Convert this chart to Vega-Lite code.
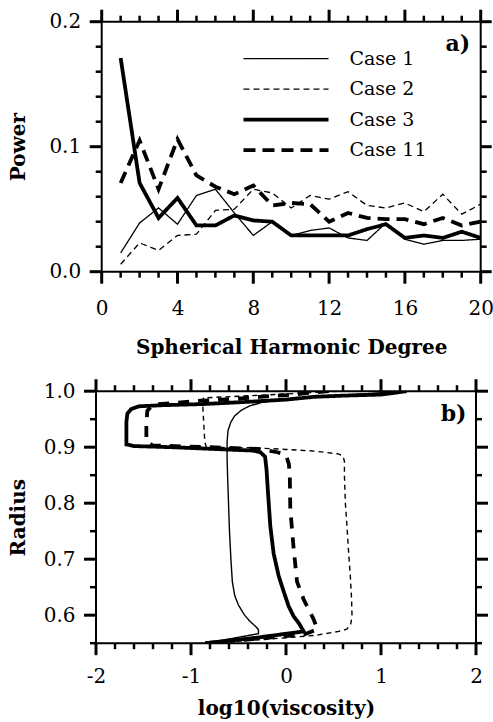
{
  "$schema": "https://vega.github.io/schema/vega-lite/v6.json",
  "padding": {"left": 0, "top": 6.7, "right": 0, "bottom": 0},
  "background": "white",
  "spacing": 17.5,
  "config": {
    "font": "DejaVu Serif",
    "view": {"stroke": "black", "strokeWidth": 2},
    "axis": {
      "domain": false, "ticks": false, "tickSize": 0,
      "labelColor": "black", "labelFont": "DejaVu Serif", "labelFontSize": 20,
      "titleFont": "DejaVu Serif", "titleFontSize": 20, "titleFontWeight": "bold", "titleColor": "black",
      "grid": false, "labelFlush": false, "labelOverlap": false
    }
  },
  "resolve": {"scale": {"strokeDash": "independent"}},
  "datasets": {
    "xMajA": [{"t": 0}, {"t": 4}, {"t": 8}, {"t": 12}, {"t": 16}, {"t": 20}],
    "xMinA": [{"t": 1}, {"t": 2}, {"t": 3}, {"t": 5}, {"t": 6}, {"t": 7}, {"t": 9}, {"t": 10}, {"t": 11}, {"t": 13}, {"t": 14}, {"t": 15}, {"t": 17}, {"t": 18}, {"t": 19}],
    "yMajA": [{"t": 0}, {"t": 0.1}, {"t": 0.2}],
    "yMinA": [{"t": 0.02}, {"t": 0.04}, {"t": 0.06}, {"t": 0.08}, {"t": 0.12}, {"t": 0.14}, {"t": 0.16}, {"t": 0.18}],
    "xMajB": [{"t": -2}, {"t": -1}, {"t": 0}, {"t": 1}, {"t": 2}],
    "xMinB": [{"t": -1.8}, {"t": -1.6}, {"t": -1.4}, {"t": -1.2}, {"t": -0.8}, {"t": -0.6}, {"t": -0.4}, {"t": -0.2}, {"t": 0.2}, {"t": 0.4}, {"t": 0.6}, {"t": 0.8}, {"t": 1.2}, {"t": 1.4}, {"t": 1.6}, {"t": 1.8}],
    "yMajB": [{"t": 0.6}, {"t": 0.7}, {"t": 0.8}, {"t": 0.9}, {"t": 1.0}],
    "yMinB": [{"t": 0.55}, {"t": 0.65}, {"t": 0.75}, {"t": 0.85}, {"t": 0.95}],
    "power": [
      {"case": "Case 1", "deg": 1, "power": 0.015}, {"case": "Case 1", "deg": 2, "power": 0.039}, {"case": "Case 1", "deg": 3, "power": 0.051}, {"case": "Case 1", "deg": 4, "power": 0.038}, {"case": "Case 1", "deg": 5, "power": 0.061}, {"case": "Case 1", "deg": 6, "power": 0.066}, {"case": "Case 1", "deg": 7, "power": 0.047}, {"case": "Case 1", "deg": 8, "power": 0.029}, {"case": "Case 1", "deg": 9, "power": 0.040}, {"case": "Case 1", "deg": 10, "power": 0.029}, {"case": "Case 1", "deg": 11, "power": 0.033}, {"case": "Case 1", "deg": 12, "power": 0.035}, {"case": "Case 1", "deg": 13, "power": 0.027}, {"case": "Case 1", "deg": 14, "power": 0.025}, {"case": "Case 1", "deg": 15, "power": 0.039}, {"case": "Case 1", "deg": 16, "power": 0.026}, {"case": "Case 1", "deg": 17, "power": 0.022}, {"case": "Case 1", "deg": 18, "power": 0.025}, {"case": "Case 1", "deg": 19, "power": 0.025}, {"case": "Case 1", "deg": 20, "power": 0.026},
      {"case": "Case 2", "deg": 1, "power": 0.006}, {"case": "Case 2", "deg": 2, "power": 0.023}, {"case": "Case 2", "deg": 3, "power": 0.017}, {"case": "Case 2", "deg": 4, "power": 0.029}, {"case": "Case 2", "deg": 5, "power": 0.030}, {"case": "Case 2", "deg": 6, "power": 0.049}, {"case": "Case 2", "deg": 7, "power": 0.050}, {"case": "Case 2", "deg": 8, "power": 0.066}, {"case": "Case 2", "deg": 9, "power": 0.063}, {"case": "Case 2", "deg": 10, "power": 0.051}, {"case": "Case 2", "deg": 11, "power": 0.061}, {"case": "Case 2", "deg": 12, "power": 0.058}, {"case": "Case 2", "deg": 13, "power": 0.064}, {"case": "Case 2", "deg": 14, "power": 0.053}, {"case": "Case 2", "deg": 15, "power": 0.051}, {"case": "Case 2", "deg": 16, "power": 0.055}, {"case": "Case 2", "deg": 17, "power": 0.048}, {"case": "Case 2", "deg": 18, "power": 0.062}, {"case": "Case 2", "deg": 19, "power": 0.046}, {"case": "Case 2", "deg": 20, "power": 0.054},
      {"case": "Case 3", "deg": 1, "power": 0.171}, {"case": "Case 3", "deg": 2, "power": 0.071}, {"case": "Case 3", "deg": 3, "power": 0.043}, {"case": "Case 3", "deg": 4, "power": 0.059}, {"case": "Case 3", "deg": 5, "power": 0.037}, {"case": "Case 3", "deg": 6, "power": 0.037}, {"case": "Case 3", "deg": 7, "power": 0.045}, {"case": "Case 3", "deg": 8, "power": 0.041}, {"case": "Case 3", "deg": 9, "power": 0.040}, {"case": "Case 3", "deg": 10, "power": 0.029}, {"case": "Case 3", "deg": 11, "power": 0.029}, {"case": "Case 3", "deg": 12, "power": 0.029}, {"case": "Case 3", "deg": 13, "power": 0.029}, {"case": "Case 3", "deg": 14, "power": 0.034}, {"case": "Case 3", "deg": 15, "power": 0.038}, {"case": "Case 3", "deg": 16, "power": 0.027}, {"case": "Case 3", "deg": 17, "power": 0.029}, {"case": "Case 3", "deg": 18, "power": 0.027}, {"case": "Case 3", "deg": 19, "power": 0.032}, {"case": "Case 3", "deg": 20, "power": 0.027},
      {"case": "Case 11", "deg": 1, "power": 0.071}, {"case": "Case 11", "deg": 2, "power": 0.105}, {"case": "Case 11", "deg": 3, "power": 0.066}, {"case": "Case 11", "deg": 4, "power": 0.106}, {"case": "Case 11", "deg": 5, "power": 0.077}, {"case": "Case 11", "deg": 6, "power": 0.068}, {"case": "Case 11", "deg": 7, "power": 0.062}, {"case": "Case 11", "deg": 8, "power": 0.069}, {"case": "Case 11", "deg": 9, "power": 0.053}, {"case": "Case 11", "deg": 10, "power": 0.055}, {"case": "Case 11", "deg": 11, "power": 0.054}, {"case": "Case 11", "deg": 12, "power": 0.040}, {"case": "Case 11", "deg": 13, "power": 0.047}, {"case": "Case 11", "deg": 14, "power": 0.043}, {"case": "Case 11", "deg": 15, "power": 0.042}, {"case": "Case 11", "deg": 16, "power": 0.042}, {"case": "Case 11", "deg": 17, "power": 0.038}, {"case": "Case 11", "deg": 18, "power": 0.043}, {"case": "Case 11", "deg": 19, "power": 0.037}, {"case": "Case 11", "deg": 20, "power": 0.040}
    ],
    "profile": [
      {"case": "Case 1", "i": 1, "logv": 1.27, "r": 1.0}, {"case": "Case 1", "i": 2, "logv": 0.8, "r": 0.995}, {"case": "Case 1", "i": 3, "logv": 0.3, "r": 0.99}, {"case": "Case 1", "i": 4, "logv": 0.0, "r": 0.986}, {"case": "Case 1", "i": 5, "logv": -0.25, "r": 0.98}, {"case": "Case 1", "i": 6, "logv": -0.38, "r": 0.974}, {"case": "Case 1", "i": 7, "logv": -0.47, "r": 0.966}, {"case": "Case 1", "i": 8, "logv": -0.54, "r": 0.956}, {"case": "Case 1", "i": 9, "logv": -0.58, "r": 0.945}, {"case": "Case 1", "i": 10, "logv": -0.61, "r": 0.93}, {"case": "Case 1", "i": 11, "logv": -0.62, "r": 0.91}, {"case": "Case 1", "i": 12, "logv": -0.62, "r": 0.88}, {"case": "Case 1", "i": 13, "logv": -0.615, "r": 0.85}, {"case": "Case 1", "i": 14, "logv": -0.605, "r": 0.8}, {"case": "Case 1", "i": 15, "logv": -0.595, "r": 0.75}, {"case": "Case 1", "i": 16, "logv": -0.58, "r": 0.7}, {"case": "Case 1", "i": 17, "logv": -0.565, "r": 0.66}, {"case": "Case 1", "i": 18, "logv": -0.54, "r": 0.635}, {"case": "Case 1", "i": 19, "logv": -0.5, "r": 0.618}, {"case": "Case 1", "i": 20, "logv": -0.44, "r": 0.601}, {"case": "Case 1", "i": 21, "logv": -0.38, "r": 0.589}, {"case": "Case 1", "i": 22, "logv": -0.32, "r": 0.58}, {"case": "Case 1", "i": 23, "logv": -0.29, "r": 0.574}, {"case": "Case 1", "i": 24, "logv": -0.29, "r": 0.567}, {"case": "Case 1", "i": 25, "logv": -0.55, "r": 0.559}, {"case": "Case 1", "i": 26, "logv": -0.85, "r": 0.55},
      {"case": "Case 3", "i": 1, "logv": 1.27, "r": 1.0}, {"case": "Case 3", "i": 2, "logv": 1.0, "r": 0.994}, {"case": "Case 3", "i": 3, "logv": 0.6, "r": 0.992}, {"case": "Case 3", "i": 4, "logv": 0.3, "r": 0.99}, {"case": "Case 3", "i": 5, "logv": 0.0, "r": 0.985}, {"case": "Case 3", "i": 6, "logv": -0.4, "r": 0.981}, {"case": "Case 3", "i": 7, "logv": -0.88, "r": 0.977}, {"case": "Case 3", "i": 8, "logv": -1.3, "r": 0.975}, {"case": "Case 3", "i": 9, "logv": -1.55, "r": 0.973}, {"case": "Case 3", "i": 10, "logv": -1.63, "r": 0.968}, {"case": "Case 3", "i": 11, "logv": -1.67, "r": 0.96}, {"case": "Case 3", "i": 12, "logv": -1.68, "r": 0.945}, {"case": "Case 3", "i": 13, "logv": -1.68, "r": 0.905}, {"case": "Case 3", "i": 14, "logv": -1.6, "r": 0.902}, {"case": "Case 3", "i": 15, "logv": -1.2, "r": 0.9}, {"case": "Case 3", "i": 16, "logv": -0.64, "r": 0.896}, {"case": "Case 3", "i": 17, "logv": -0.35, "r": 0.894}, {"case": "Case 3", "i": 18, "logv": -0.27, "r": 0.891}, {"case": "Case 3", "i": 19, "logv": -0.22, "r": 0.883}, {"case": "Case 3", "i": 20, "logv": -0.205, "r": 0.86}, {"case": "Case 3", "i": 21, "logv": -0.19, "r": 0.82}, {"case": "Case 3", "i": 22, "logv": -0.165, "r": 0.759}, {"case": "Case 3", "i": 23, "logv": -0.13, "r": 0.71}, {"case": "Case 3", "i": 24, "logv": -0.077, "r": 0.67}, {"case": "Case 3", "i": 25, "logv": -0.02, "r": 0.64}, {"case": "Case 3", "i": 26, "logv": 0.028, "r": 0.616}, {"case": "Case 3", "i": 27, "logv": 0.08, "r": 0.598}, {"case": "Case 3", "i": 28, "logv": 0.134, "r": 0.586}, {"case": "Case 3", "i": 29, "logv": 0.186, "r": 0.571}, {"case": "Case 3", "i": 30, "logv": -0.3, "r": 0.56}, {"case": "Case 3", "i": 31, "logv": -0.85, "r": 0.55},
      {"case": "Case 2", "i": 1, "logv": 0.55, "r": 1.0}, {"case": "Case 2", "i": 2, "logv": 0.0, "r": 0.995}, {"case": "Case 2", "i": 3, "logv": -0.5, "r": 0.991}, {"case": "Case 2", "i": 4, "logv": -0.87, "r": 0.988}, {"case": "Case 2", "i": 5, "logv": -0.875, "r": 0.97}, {"case": "Case 2", "i": 6, "logv": -0.865, "r": 0.94}, {"case": "Case 2", "i": 7, "logv": -0.855, "r": 0.91}, {"case": "Case 2", "i": 8, "logv": -0.84, "r": 0.9}, {"case": "Case 2", "i": 9, "logv": -0.36, "r": 0.899}, {"case": "Case 2", "i": 10, "logv": 0.0, "r": 0.896}, {"case": "Case 2", "i": 11, "logv": 0.3, "r": 0.893}, {"case": "Case 2", "i": 12, "logv": 0.55, "r": 0.888}, {"case": "Case 2", "i": 13, "logv": 0.6, "r": 0.884}, {"case": "Case 2", "i": 14, "logv": 0.615, "r": 0.875}, {"case": "Case 2", "i": 15, "logv": 0.615, "r": 0.85}, {"case": "Case 2", "i": 16, "logv": 0.625, "r": 0.8}, {"case": "Case 2", "i": 17, "logv": 0.642, "r": 0.759}, {"case": "Case 2", "i": 18, "logv": 0.66, "r": 0.71}, {"case": "Case 2", "i": 19, "logv": 0.677, "r": 0.67}, {"case": "Case 2", "i": 20, "logv": 0.69, "r": 0.63}, {"case": "Case 2", "i": 21, "logv": 0.695, "r": 0.598}, {"case": "Case 2", "i": 22, "logv": 0.68, "r": 0.583}, {"case": "Case 2", "i": 23, "logv": 0.64, "r": 0.575}, {"case": "Case 2", "i": 24, "logv": 0.555, "r": 0.571}, {"case": "Case 2", "i": 25, "logv": 0.31, "r": 0.564}, {"case": "Case 2", "i": 26, "logv": -0.2, "r": 0.557}, {"case": "Case 2", "i": 27, "logv": -0.85, "r": 0.55},
      {"case": "Case 11", "i": 1, "logv": 0.45, "r": 1.0}, {"case": "Case 11", "i": 2, "logv": 0.25, "r": 0.997}, {"case": "Case 11", "i": 3, "logv": 0.0, "r": 0.993}, {"case": "Case 11", "i": 4, "logv": -0.27, "r": 0.99}, {"case": "Case 11", "i": 5, "logv": -0.55, "r": 0.986}, {"case": "Case 11", "i": 6, "logv": -0.9, "r": 0.983}, {"case": "Case 11", "i": 7, "logv": -1.4, "r": 0.976}, {"case": "Case 11", "i": 8, "logv": -1.46, "r": 0.965}, {"case": "Case 11", "i": 9, "logv": -1.47, "r": 0.94}, {"case": "Case 11", "i": 10, "logv": -1.47, "r": 0.91}, {"case": "Case 11", "i": 11, "logv": -1.4, "r": 0.903}, {"case": "Case 11", "i": 12, "logv": -0.8, "r": 0.9}, {"case": "Case 11", "i": 13, "logv": -0.3, "r": 0.897}, {"case": "Case 11", "i": 14, "logv": -0.09, "r": 0.891}, {"case": "Case 11", "i": 15, "logv": 0.0, "r": 0.886}, {"case": "Case 11", "i": 16, "logv": 0.03, "r": 0.87}, {"case": "Case 11", "i": 17, "logv": 0.04, "r": 0.85}, {"case": "Case 11", "i": 18, "logv": 0.045, "r": 0.79}, {"case": "Case 11", "i": 19, "logv": 0.08, "r": 0.72}, {"case": "Case 11", "i": 20, "logv": 0.116, "r": 0.66}, {"case": "Case 11", "i": 21, "logv": 0.186, "r": 0.628}, {"case": "Case 11", "i": 22, "logv": 0.29, "r": 0.593}, {"case": "Case 11", "i": 23, "logv": 0.33, "r": 0.575}, {"case": "Case 11", "i": 24, "logv": 0.2, "r": 0.566}, {"case": "Case 11", "i": 25, "logv": -0.3, "r": 0.558}, {"case": "Case 11", "i": 26, "logv": -0.85, "r": 0.55}
    ]
  },
  "vconcat": [
    {
      "spacing": 0.7,
      "hconcat": [
        {"width": 1, "height": 1, "view": {"stroke": null}, "data": {"values": [{"s": 0}]}, "mark": {"type": "point", "opacity": 0}},
        {
          "width": 379,
          "height": 250,
          "layer": [
            {
              "data": {"name": "power"},
              "mark": {"type": "line", "color": "black", "clip": true},
              "encoding": {
                "x": {"field": "deg", "type": "quantitative", "title": "Spherical Harmonic Degree",
                  "scale": {"domain": [0, 20], "nice": false},
                  "axis": {"values": [0, 4, 8, 12, 16, 20], "labelPadding": 27, "titlePadding": 19}},
                "y": {"field": "power", "type": "quantitative", "title": "Power",
                  "scale": {"domain": [0, 0.2], "nice": false},
                  "axis": {"values": [0, 0.1, 0.2], "format": ".1f", "labelPadding": 21, "titlePadding": 20}},
                "strokeDash": {"field": "case", "type": "nominal",
                  "scale": {"domain": ["Case 1", "Case 2", "Case 3", "Case 11"], "range": [[1, 0], [6, 4], [1, 0], [12, 7]]},
                  "legend": {"orient": "none", "legendX": 273.5, "legendY": 27.5, "title": null,
                    "symbolType": "M-8,0H8", "symbolSize": 113, "symbolStrokeColor": "black",
                    "labelFont": "DejaVu Serif", "labelFontSize": 19, "labelColor": "black",
                    "labelOffset": 54, "rowPadding": 10.5, "padding": 0,
                    "encode": {"symbols": {"update": {"strokeWidth": {"signal": "datum.value === 'Case 3' || datum.value === 'Case 11' ? 3.8 : 1.3"}}}}}},
                "strokeWidth": {"condition": {"test": "datum['case'] === 'Case 3' || datum['case'] === 'Case 11'", "value": 3.8}, "value": 1.3}
              }
            },
            {"data": {"name": "xMajA"}, "mark": {"type": "rule", "color": "black", "strokeWidth": 3},
             "encoding": {"x": {"field": "t", "type": "quantitative", "title": "Spherical Harmonic Degree"}, "y": {"datum": 0, "type": "quantitative", "title": "Power"}, "y2": {"datum": -0.0096}}},
            {"data": {"name": "xMinA"}, "mark": {"type": "rule", "color": "black", "strokeWidth": 2.5},
             "encoding": {"x": {"field": "t", "type": "quantitative", "title": "Spherical Harmonic Degree"}, "y": {"datum": 0, "type": "quantitative", "title": "Power"}, "y2": {"datum": -0.0048}}},
            {"data": {"name": "xMajA"}, "mark": {"type": "rule", "color": "black", "strokeWidth": 3},
             "encoding": {"x": {"field": "t", "type": "quantitative", "title": "Spherical Harmonic Degree"}, "y": {"datum": 0.2, "type": "quantitative", "title": "Power"}, "y2": {"datum": 0.2096}}},
            {"data": {"name": "xMinA"}, "mark": {"type": "rule", "color": "black", "strokeWidth": 2.5},
             "encoding": {"x": {"field": "t", "type": "quantitative", "title": "Spherical Harmonic Degree"}, "y": {"datum": 0.2, "type": "quantitative", "title": "Power"}, "y2": {"datum": 0.2048}}},
            {"data": {"name": "yMajA"}, "mark": {"type": "rule", "color": "black", "strokeWidth": 3},
             "encoding": {"y": {"field": "t", "type": "quantitative", "title": "Power"}, "x": {"datum": 0, "type": "quantitative", "title": "Spherical Harmonic Degree"}, "x2": {"datum": -0.633}}},
            {"data": {"name": "yMinA"}, "mark": {"type": "rule", "color": "black", "strokeWidth": 2.5},
             "encoding": {"y": {"field": "t", "type": "quantitative", "title": "Power"}, "x": {"datum": 0, "type": "quantitative", "title": "Spherical Harmonic Degree"}, "x2": {"datum": -0.317}}},
            {"data": {"name": "yMajA"}, "mark": {"type": "rule", "color": "black", "strokeWidth": 3},
             "encoding": {"y": {"field": "t", "type": "quantitative", "title": "Power"}, "x": {"datum": 20, "type": "quantitative", "title": "Spherical Harmonic Degree"}, "x2": {"datum": 20.58}}},
            {"data": {"name": "yMinA"}, "mark": {"type": "rule", "color": "black", "strokeWidth": 2.5},
             "encoding": {"y": {"field": "t", "type": "quantitative", "title": "Power"}, "x": {"datum": 20, "type": "quantitative", "title": "Spherical Harmonic Degree"}, "x2": {"datum": 20.317}}},
            {
              "data": {"values": [{"label": "a)"}]},
              "mark": {"type": "text", "font": "DejaVu Serif", "fontWeight": "bold", "fontSize": 22, "align": "right", "baseline": "middle", "color": "black"},
              "encoding": {
                "x": {"datum": 19.45, "type": "quantitative", "title": "Spherical Harmonic Degree"},
                "y": {"datum": 0.182, "type": "quantitative", "title": "Power"},
                "text": {"field": "label"}
              }
            }
          ]
        }
      ]
    },
    {
      "spacing": 0,
      "hconcat": [
        {"width": 1, "height": 1, "view": {"stroke": null}, "data": {"values": [{"s": 0}]}, "mark": {"type": "point", "opacity": 0}},
        {
          "width": 380,
          "height": 252,
          "layer": [
            {
              "data": {"name": "profile"},
              "mark": {"type": "line", "color": "black", "clip": true},
              "encoding": {
                "x": {"field": "logv", "type": "quantitative", "title": "log10(viscosity)",
                  "scale": {"domain": [-2, 2], "nice": false},
                  "axis": {"values": [-2, -1, 0, 1, 2], "labelExpr": "'' + round(datum.value)", "labelPadding": 23, "titlePadding": 12}},
                "y": {"field": "r", "type": "quantitative", "title": "Radius",
                  "scale": {"domain": [0.55, 1.0], "nice": false, "zero": false},
                  "axis": {"values": [0.6, 0.7, 0.8, 0.9, 1.0], "format": ".1f", "labelPadding": 21, "titlePadding": 15}},
                "order": {"field": "i", "type": "quantitative"},
                "strokeDash": {"field": "case", "type": "nominal",
                  "scale": {"domain": ["Case 1", "Case 2", "Case 3", "Case 11"], "range": [[1, 0], [5, 4], [1, 0], [11, 9]]},
                  "legend": null},
                "strokeWidth": {"condition": {"test": "datum['case'] === 'Case 3' || datum['case'] === 'Case 11'", "value": 3.8}, "value": 1.4}
              }
            },
            {"data": {"name": "xMajB"}, "mark": {"type": "rule", "color": "black", "strokeWidth": 3},
             "encoding": {"x": {"field": "t", "type": "quantitative", "title": "log10(viscosity)"}, "y": {"datum": 0.55, "type": "quantitative", "title": "Radius"}, "y2": {"datum": 0.5286}}},
            {"data": {"name": "xMinB"}, "mark": {"type": "rule", "color": "black", "strokeWidth": 2.5},
             "encoding": {"x": {"field": "t", "type": "quantitative", "title": "log10(viscosity)"}, "y": {"datum": 0.55, "type": "quantitative", "title": "Radius"}, "y2": {"datum": 0.5393}}},
            {"data": {"name": "xMajB"}, "mark": {"type": "rule", "color": "black", "strokeWidth": 3},
             "encoding": {"x": {"field": "t", "type": "quantitative", "title": "log10(viscosity)"}, "y": {"datum": 1.0, "type": "quantitative", "title": "Radius"}, "y2": {"datum": 1.0214}}},
            {"data": {"name": "xMinB"}, "mark": {"type": "rule", "color": "black", "strokeWidth": 2.5},
             "encoding": {"x": {"field": "t", "type": "quantitative", "title": "log10(viscosity)"}, "y": {"datum": 1.0, "type": "quantitative", "title": "Radius"}, "y2": {"datum": 1.0107}}},
            {"data": {"name": "yMajB"}, "mark": {"type": "rule", "color": "black", "strokeWidth": 3},
             "encoding": {"y": {"field": "t", "type": "quantitative", "title": "Radius"}, "x": {"datum": -2, "type": "quantitative", "title": "log10(viscosity)"}, "x2": {"datum": -2.126}}},
            {"data": {"name": "yMinB"}, "mark": {"type": "rule", "color": "black", "strokeWidth": 2.5},
             "encoding": {"y": {"field": "t", "type": "quantitative", "title": "Radius"}, "x": {"datum": -2, "type": "quantitative", "title": "log10(viscosity)"}, "x2": {"datum": -2.063}}},
            {"data": {"name": "yMajB"}, "mark": {"type": "rule", "color": "black", "strokeWidth": 3},
             "encoding": {"y": {"field": "t", "type": "quantitative", "title": "Radius"}, "x": {"datum": 2, "type": "quantitative", "title": "log10(viscosity)"}, "x2": {"datum": 2.126}}},
            {"data": {"name": "yMinB"}, "mark": {"type": "rule", "color": "black", "strokeWidth": 2.5},
             "encoding": {"y": {"field": "t", "type": "quantitative", "title": "Radius"}, "x": {"datum": 2, "type": "quantitative", "title": "log10(viscosity)"}, "x2": {"datum": 2.063}}},
            {
              "data": {"values": [{"label": "b)"}]},
              "mark": {"type": "text", "font": "DejaVu Serif", "fontWeight": "bold", "fontSize": 22, "align": "right", "baseline": "middle", "color": "black"},
              "encoding": {
                "x": {"datum": 1.9, "type": "quantitative", "title": "log10(viscosity)"},
                "y": {"datum": 0.96, "type": "quantitative", "title": "Radius"},
                "text": {"field": "label"}
              }
            }
          ]
        }
      ]
    }
  ]
}
